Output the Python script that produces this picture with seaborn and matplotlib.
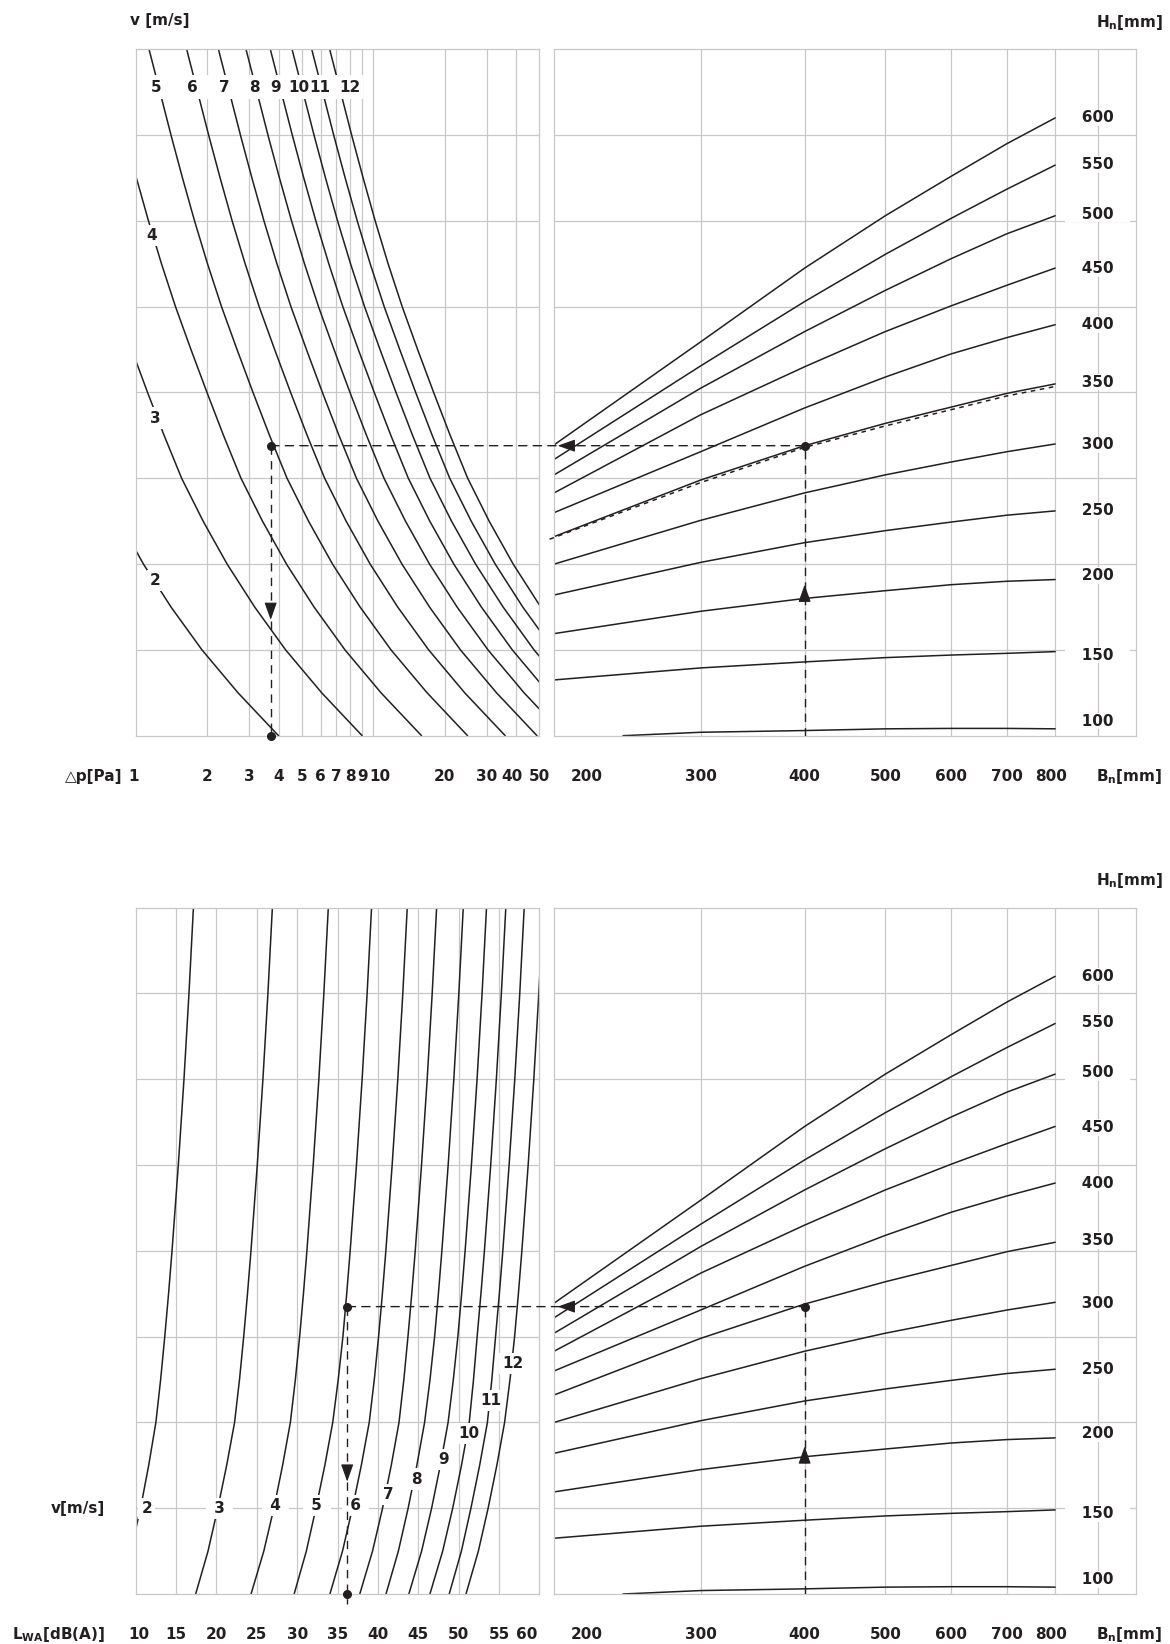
import pandas as pd
import matplotlib
matplotlib.use("Agg")
import matplotlib.pyplot as plt
import seaborn as sns
from matplotlib.patches import ConnectionPatch

# ---- values (vertical scale = 8 unlabeled grid steps) ----

# top left: pressure drop [Pa] along each velocity curve, at these heights
y_dp = [8, 7.5, 7, 6.5, 6, 5.5, 5, 4.5, 4, 3.5, 3, 2.5, 2, 1.5, 1, 0.5, 0]
dp_v2 = [0.182, 0.203, 0.225, 0.252, 0.283, 0.321, 0.368, 0.427, 0.499, 0.585, 0.694, 0.855, 1.078, 1.408, 1.901, 2.696, 3.992]
dp_v3 = [0.410, 0.456, 0.507, 0.567, 0.637, 0.722, 0.827, 0.962, 1.122, 1.317, 1.561, 1.923, 2.426, 3.168, 4.277, 6.066, 8.982]
dp_v4 = [0.728, 0.810, 0.901, 1.007, 1.132, 1.284, 1.471, 1.709, 1.996, 2.342, 2.775, 3.418, 4.313, 5.632, 7.603, 10.78, 15.97]
dp_v5 = [1.138, 1.266, 1.408, 1.574, 1.769, 2.006, 2.298, 2.671, 3.118, 3.659, 4.336, 5.341, 6.739, 8.800, 11.88, 16.85, 24.95]
dp_v6 = [1.639, 1.823, 2.028, 2.267, 2.547, 2.889, 3.309, 3.846, 4.490, 5.269, 6.244, 7.691, 9.704, 12.67, 17.11, 24.26, 35.93]
dp_v7 = [2.230, 2.481, 2.760, 3.085, 3.467, 3.932, 4.504, 5.235, 6.111, 7.172, 8.499, 10.47, 13.21, 17.25, 23.28, 33.03, 48.90]
dp_v8 = [2.913, 3.241, 3.604, 4.029, 4.529, 5.135, 5.883, 6.838, 7.982, 9.367, 11.10, 13.67, 17.25, 22.53, 30.41, 43.14, 63.87]
dp_v9 = [3.687, 4.102, 4.562, 5.100, 5.732, 6.499, 7.446, 8.654, 10.10, 11.86, 14.05, 17.30, 21.83, 28.51, 38.49, 54.59, 80.84]
dp_v10 = [4.552, 5.064, 5.632, 6.296, 7.076, 8.024, 9.192, 10.68, 12.47, 14.64, 17.34, 21.36, 26.96, 35.20, 47.52, 67.40, 99.80]
dp_v11 = [5.508, 6.127, 6.815, 7.618, 8.562, 9.709, 11.12, 12.93, 15.09, 17.71, 20.99, 25.85, 32.62, 42.59, 57.50, 81.55, 120.8]
dp_v12 = [6.555, 7.290, 8.110, 9.066, 10.19, 11.55, 13.24, 15.38, 17.96, 21.08, 24.98, 30.76, 38.82, 50.69, 68.43, 97.06, 143.7]

velocities = [2, 3, 4, 5, 6, 7, 8, 9, 10, 11, 12]
dp_curves = [dp_v2, dp_v3, dp_v4, dp_v5, dp_v6, dp_v7, dp_v8, dp_v9, dp_v10, dp_v11, dp_v12]

# where the v labels sit on the top-left curves
dp_lab_x = [1.21, 1.21, 1.17, 1.22, 1.74, 2.35, 3.15, 3.89, 4.84, 5.97, 7.99]
dp_lab_y = [1.81, 3.70, 5.83, 7.56, 7.56, 7.56, 7.56, 7.56, 7.56, 7.56, 7.56]

# bottom left: sound power level L_WA [dB(A)] along each velocity curve
y_lwa = [0, 0.5, 1, 1.5, 2, 2.5, 3, 3.5, 4, 5, 6, 7, 8]
lwa_v2 = [7.85, 9.39, 10.6, 11.61, 12.5, 13.09, 13.6, 14.07, 14.5, 15.28, 15.98, 16.60, 17.15]
lwa_v3 = [17.43, 18.96, 20.17, 21.27, 22.25, 22.86, 23.38, 23.85, 24.28, 25.06, 25.76, 26.38, 26.93]
lwa_v4 = [24.29, 25.87, 27.12, 28.20, 29.16, 29.78, 30.31, 30.78, 31.21, 31.99, 32.69, 33.31, 33.86]
lwa_v5 = [29.63, 31.14, 32.33, 33.43, 34.41, 35.09, 35.67, 36.14, 36.57, 37.35, 38.05, 38.67, 39.22]
lwa_v6 = [34.06, 35.62, 36.85, 37.95, 38.93, 39.56, 40.09, 40.56, 40.99, 41.77, 42.47, 43.09, 43.64]
lwa_v7 = [37.76, 39.34, 40.58, 41.66, 42.62, 43.22, 43.73, 44.20, 44.63, 45.41, 46.11, 46.73, 47.28]
lwa_v8 = [41.01, 42.54, 43.75, 44.83, 45.79, 46.46, 47.03, 47.50, 47.93, 48.71, 49.41, 50.03, 50.58]
lwa_v9 = [43.84, 45.42, 46.66, 47.74, 48.70, 49.35, 49.91, 50.38, 50.81, 51.59, 52.29, 52.91, 53.46]
lwa_v10 = [46.45, 48.03, 49.27, 50.36, 51.32, 51.85, 52.30, 52.77, 53.20, 53.98, 54.68, 55.30, 55.85]
lwa_v11 = [48.84, 50.35, 51.53, 52.61, 53.57, 54.12, 54.58, 55.05, 55.48, 56.26, 56.96, 57.58, 58.13]
lwa_v12 = [50.92, 52.45, 53.66, 54.74, 55.70, 56.37, 56.94, 57.41, 57.84, 58.62, 59.32, 59.94, 60.49]
lwa_curves = [lwa_v2, lwa_v3, lwa_v4, lwa_v5, lwa_v6, lwa_v7, lwa_v8, lwa_v9, lwa_v10, lwa_v11, lwa_v12]

lwa_lab_x = [11.39, 20.38, 27.33, 32.45, 37.2, 41.24, 44.84, 48.18, 51.23, 53.97, 56.74]
lwa_lab_y = [1.0, 1.0, 1.03, 1.03, 1.03, 1.16, 1.34, 1.57, 1.87, 2.26, 2.69]

# right panels: each H_n curve over nominal width B_n [mm]
b_n = [200, 300, 400, 500, 600, 700, 800]
h_600 = [3.39, 4.59, 5.45, 6.06, 6.52, 6.90, 7.20]
h_550 = [3.22, 4.31, 5.06, 5.61, 6.03, 6.37, 6.65]
h_500 = [3.04, 4.05, 4.71, 5.19, 5.56, 5.85, 6.06]
h_450 = [2.83, 3.74, 4.30, 4.71, 5.01, 5.25, 5.45]
h_400 = [2.60, 3.31, 3.82, 4.18, 4.45, 4.64, 4.79]
h_350 = [2.32, 2.98, 3.38, 3.64, 3.83, 3.99, 4.10]
h_300 = [2.00, 2.51, 2.83, 3.04, 3.19, 3.31, 3.40]
h_250 = [1.64, 2.02, 2.25, 2.39, 2.49, 2.57, 2.62]
h_200 = [1.19, 1.45, 1.60, 1.69, 1.76, 1.80, 1.82]
h_150 = [0.65, 0.79, 0.86, 0.91, 0.94, 0.96, 0.98]
b_n_100 = [242, 300, 400, 500, 600, 700, 800]
h_100 = [0.00, 0.04, 0.06, 0.08, 0.085, 0.085, 0.08]

h_values = [600, 550, 500, 450, 400, 350, 300, 250, 200, 150, 100]
h_curves = [h_600, h_550, h_500, h_450, h_400, h_350, h_300, h_250, h_200, h_150, h_100]
h_lab_y = [7.20, 6.66, 6.08, 5.44, 4.79, 4.12, 3.39, 2.62, 1.87, 0.94, 0.17]

# dashed trace drawn along the 350 curve in the upper chart
b_trace = [197.5, 300, 400, 500, 600, 700, 800]
h_trace = [2.29, 2.95, 3.36, 3.61, 3.80, 3.96, 4.07]

# worked example: B=400 / H=350
ex_b = 400
ex_dp, ex_y_top = 3.7, 3.38
ex_lwa, ex_y_bot = 36.2, 3.35

# ---- long tables for seaborn ----
dp_df = pd.DataFrame([(v, x, y) for v, xs in zip(velocities, dp_curves) for x, y in zip(xs, y_dp)],
                     columns=["v", "dp", "y"])
lwa_df = pd.DataFrame([(v, x, y) for v, xs in zip(velocities, lwa_curves) for x, y in zip(xs, y_lwa)],
                      columns=["v", "lwa", "y"])
rows = []
for h, ys in zip(h_values, h_curves):
    bs = b_n_100 if h == 100 else b_n
    rows += [(h, b, y) for b, y in zip(bs, ys)]
h_df = pd.DataFrame(rows, columns=["H", "B", "y"])

sns.set_theme(style="white")
plt.rcParams["font.family"] = ["DejaVu Sans"]
plt.rcParams["font.weight"] = "bold"
plt.rcParams["mathtext.fontset"] = "dejavusans"
plt.rcParams["mathtext.default"] = "bf"

GRID = "#c8c8cc"
INK = "#231f20"
FS = 11
DASH = (0, (6, 4.5))

W, H = 1170, 1644
fig = plt.figure(figsize=(W / 100, H / 100), dpi=100)


def px_axes(x0, y0, x1, y1):
    return fig.add_axes([x0 / W, 1 - y1 / H, (x1 - x0) / W, (y1 - y0) / H])


def ftext(x, y, s, ha="left"):
    fig.text(x / W, 1 - (y + 5.5) / H, s, ha=ha, va="baseline", fontsize=FS, color=INK)


def frame(ax, vgrid):
    ax.set_ylim(0, 8)
    for yv in range(1, 8):
        ax.axhline(yv, color=GRID, lw=0.9, zorder=0.5)
    for xv in vgrid:
        ax.axvline(xv, color=GRID, lw=0.9, zorder=0.5)
    for s in ax.spines.values():
        s.set_visible(True)
        s.set_color(GRID)
        s.set_linewidth(0.9)
    ax.set_xticks([])
    ax.set_yticks([])
    ax.set_xticks([], minor=True)
    ax.set_yticks([], minor=True)
    ax.set_xlabel("")
    ax.set_ylabel("")


def bottom_labels(ax, values, shift_px=None):
    shift_px = shift_px or {}
    for v in values:
        lab = str(v)
        ax.annotate(lab, xy=(v, 0), xycoords=("data", "axes fraction"),
                    xytext=(shift_px.get(lab, 0) * 0.72, -32.3), textcoords="offset points",
                    ha="center", va="baseline", fontsize=FS, color=INK, annotation_clip=False)


def arrow(ax, tip, base):
    ax.annotate("", xy=tip, xytext=base,
                arrowprops=dict(arrowstyle="-|>,head_length=0.9,head_width=0.32", color=INK,
                                lw=0.8, shrinkA=0, shrinkB=0, mutation_scale=12), zorder=6)


def dot(ax, x, y):
    ax.plot([x], [y], "o", ms=5.5, color=INK, clip_on=False, zorder=6)


def size_panel(ax, y_ex, arrow_y, trace=False):
    sns.lineplot(data=h_df, x="B", y="y", units="H", estimator=None, sort=False,
                 color=INK, lw=1.1, legend=False, ax=ax)
    if trace:
        ax.plot(b_trace, h_trace, color=INK, lw=1.1, ls=(0, (3, 3)), clip_on=False, zorder=3)
    ax.set_xscale("log")
    ax.set_xlim(200, 1000)
    frame(ax, [300, 400, 500, 600, 700, 800, 900])
    for h, yl in zip(h_values, h_lab_y):
        ax.text(900, yl, f"   {h}   ", ha="center", va="center", fontsize=FS, color=INK,
                bbox=dict(boxstyle="square,pad=0.05", fc="white", ec="none"))
    bottom_labels(ax, [200, 300, 400, 500, 600, 700, 800], {"200": 33, "800": -4})
    ax.plot([ex_b, ex_b], [0, y_ex], color=INK, lw=1.0, ls=DASH, zorder=5)
    dot(ax, ex_b, y_ex)
    arrow(ax, (ex_b, arrow_y[1]), (ex_b, arrow_y[0]))
    arrow(ax, (202, y_ex), (210.5, y_ex))


# ---- top left: pressure drop ----
ax_dp = px_axes(135.7, 49.3, 539.3, 735.7)
sns.lineplot(data=dp_df, x="dp", y="y", units="v", estimator=None, sort=False,
             color=INK, lw=1.1, legend=False, ax=ax_dp)
ax_dp.set_xscale("log")
ax_dp.set_xlim(1, 50)
frame(ax_dp, [2, 3, 4, 5, 6, 7, 8, 9, 10, 20, 30, 40])
# white strip behind the row of velocity labels at the top
ax_dp.axhspan(7.42, 7.70, xmin=0.023, xmax=0.563, color="white", lw=0, zorder=3.5)
for v, lx, ly in zip(velocities, dp_lab_x, dp_lab_y):
    box = dict(boxstyle="square,pad=0.22", fc="white", ec="none") if v <= 4 else None
    ax_dp.text(lx, ly, str(v), ha="center", va="center", fontsize=FS, color=INK, zorder=4, bbox=box)
bottom_labels(ax_dp, [1, 2, 3, 4, 5, 6, 7, 8, 9, 10, 20, 30, 40, 50], {"1": -2, "10": 7, "40": -4})
ax_dp.plot([ex_dp, ex_dp], [ex_y_top, 0], color=INK, lw=1.0, ls=DASH, zorder=5)
dot(ax_dp, ex_dp, ex_y_top)
dot(ax_dp, ex_dp, 0)
arrow(ax_dp, (ex_dp, 1.35), (ex_dp, 1.51))

# ---- top right ----
ax_tr = px_axes(554.1, 49.3, 1135.8, 735.7)
size_panel(ax_tr, ex_y_top, (1.58, 1.76), trace=True)
fig.add_artist(ConnectionPatch(xyA=(ex_dp, ex_y_top), coordsA=ax_dp.transData,
                               xyB=(ex_b, ex_y_top), coordsB=ax_tr.transData,
                               color=INK, lw=1.0, ls=DASH, zorder=5))

# ---- bottom left: sound power ----
ax_lw = px_axes(135.7, 907.7, 539.3, 1594)
sns.lineplot(data=lwa_df, x="lwa", y="y", units="v", estimator=None, sort=False,
             color=INK, lw=1.1, legend=False, ax=ax_lw)
ax_lw.set_xlim(10, 60)
frame(ax_lw, [15, 20, 25, 30, 35, 40, 45, 50, 55])
for v, lx, ly in zip(velocities, lwa_lab_x, lwa_lab_y):
    s = f" {v} " if 3 <= v <= 6 else str(v)
    ax_lw.text(lx, ly, s, ha="center", va="center", fontsize=FS, color=INK, zorder=4,
               bbox=dict(boxstyle="square,pad=0.2", fc="white", ec="none"))
bottom_labels(ax_lw, [10, 15, 20, 25, 30, 35, 40, 45, 50, 55, 60], {"10": 3, "60": -13})
ax_lw.plot([ex_lwa, ex_lwa], [ex_y_bot, -0.12], color=INK, lw=1.0, ls=DASH, zorder=5, clip_on=False)
dot(ax_lw, ex_lwa, ex_y_bot)
dot(ax_lw, ex_lwa, 0)
arrow(ax_lw, (ex_lwa, 1.31), (ex_lwa, 1.47))

# ---- bottom right ----
ax_br = px_axes(554.1, 907.7, 1135.8, 1594)
size_panel(ax_br, ex_y_bot, (1.54, 1.72))
fig.add_artist(ConnectionPatch(xyA=(ex_lwa, ex_y_bot), coordsA=ax_lw.transData,
                               xyB=(ex_b, ex_y_bot), coordsB=ax_br.transData,
                               color=INK, lw=1.0, ls=DASH, zorder=5))

# ---- axis captions ----
ftext(130, 19, "v [m/s]")
ftext(1096, 21, r"H$_{n}$[mm]")
ftext(122, 775, "\u25b3p[Pa]", ha="right")
ftext(1096, 775, r"B$_{n}$[mm]")
ftext(1096, 879.5, r"H$_{n}$[mm]")
ftext(105, 1507.7, "v[m/s]", ha="right")
ftext(105, 1633.3, r"L$_{WA}$[dB(A)]", ha="right")
ftext(1096, 1633.3, r"B$_{n}$[mm]")

fig.savefig("out.png", dpi=100)
